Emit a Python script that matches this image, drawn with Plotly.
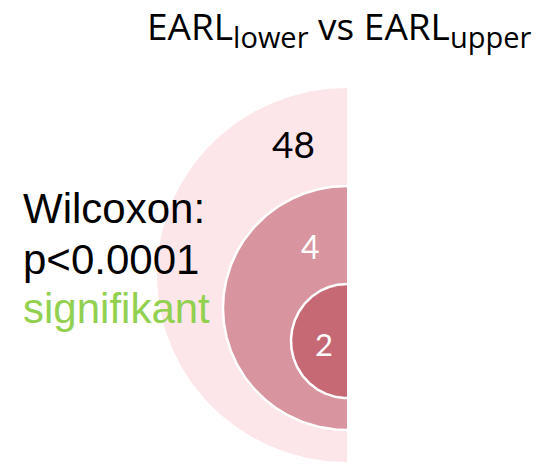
import numpy as np
import plotly.graph_objects as go

# Counts in the nested regions, outer -> inner
region_counts = [48, 4, 2]
region_fills = ["#FDE6E9", "#D8959F", "#C66974"]
count_colors = ["black", "white", "white"]

title_base = "EARL"
title_subs = ["lower", "upper"]
test_lines = ["Wilcoxon:", "p<0.0001", "signifikant"]
test_colors = ["black", "black", "#92D050"]

W, H = 546, 464
CUT_X = 347  # regions are shown as their left halves only

# half-ellipse geometry in pixel space: (centre y, radius x, radius y)
shapes_geom = [(275, 190, 187), (308, 124, 122), (341, 56, 57)]
label_pos = [(293, 143), (310, 246), (324, 344)]

fig = go.Figure()
t = np.linspace(np.pi / 2, 3 * np.pi / 2, 241)
for i, (cy, rx, ry) in enumerate(shapes_geom):
    xs = CUT_X + rx * np.cos(t)
    ys = cy - ry * np.sin(t)
    fig.add_trace(go.Scatter(
        x=np.append(xs, xs[0]), y=np.append(ys, ys[0]),
        mode="lines", fill="toself", fillcolor=region_fills[i],
        line=dict(width=0), hoverinfo="skip", showlegend=False))
    if i > 0:
        fig.add_trace(go.Scatter(
            x=xs, y=ys, mode="lines", line=dict(color="white", width=2.5),
            hoverinfo="skip", showlegend=False))

annotations = []
count_sizes = [37, 32, 31]
for n, (x, y), c, s in zip(region_counts, label_pos, count_colors, count_sizes):
    annotations.append(dict(x=x, y=y, text=str(n), showarrow=False,
                            xanchor="center", yanchor="middle",
                            font=dict(family="Lato", size=s, color=c)))

sub_span = '<sub><span style="font-size:29px">{}</span></sub>'
title_text = (title_base + sub_span.format(title_subs[0]) + " vs "
              + title_base + sub_span.format(title_subs[1]))
annotations.append(dict(x=339, y=28, text=title_text, showarrow=False,
                        xanchor="center", yanchor="middle",
                        font=dict(family="Open Sans", size=37, color="black")))

for line, c, yb in zip(test_lines, test_colors, [208, 259, 308]):
    annotations.append(dict(x=21, y=yb, text=line, showarrow=False,
                            xanchor="left", yanchor="middle",
                            font=dict(family="Liberation Sans", size=42, color=c)))

fig.update_layout(
    width=W, height=H, margin=dict(l=0, r=0, t=0, b=0),
    paper_bgcolor="white", plot_bgcolor="white",
    xaxis=dict(range=[0, W], visible=False, fixedrange=True),
    yaxis=dict(range=[H, 0], visible=False, fixedrange=True),
    annotations=annotations,
)
fig.write_html("out.html")
